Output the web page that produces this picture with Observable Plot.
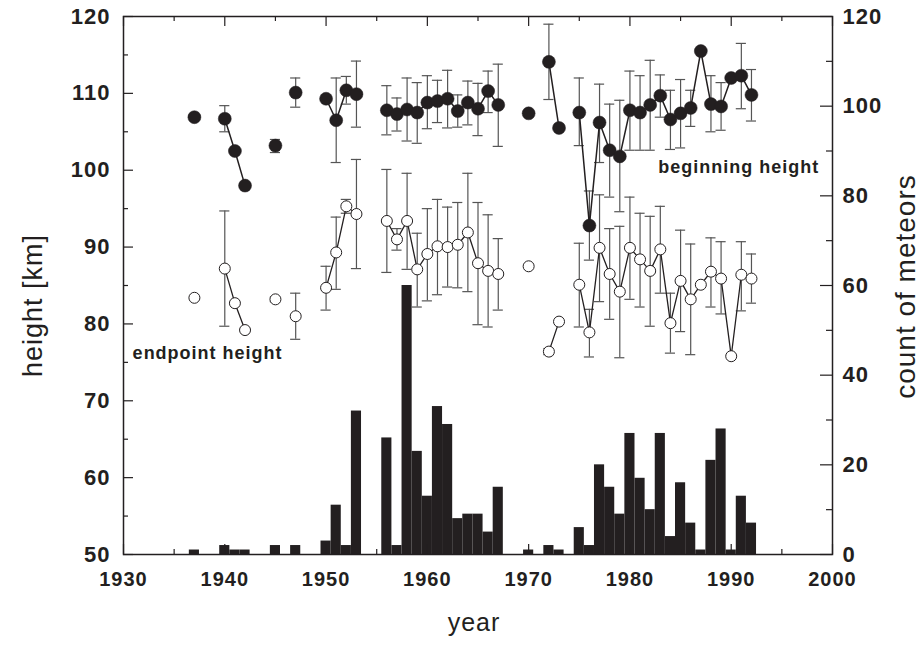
<!DOCTYPE html>
<html><head><meta charset="utf-8">
<script src="https://cdn.jsdelivr.net/npm/d3@7"></script>
<script src="https://cdn.jsdelivr.net/npm/@observablehq/plot@0.6"></script>
<style>body{margin:0;background:#fff}</style>
</head><body><div id="chart"></div>
<script>
// ---- data ----
const years = [1937,1940,1941,1942,1945,1947,1950,1951,1952,1953,
  1956,1957,1958,1959,1960,1961,1962,1963,1964,1965,1966,1967,
  1970,1972,1973,
  1975,1976,1977,1978,1979,1980,1981,1982,1983,1984,1985,1986,1987,1988,1989,1990,1991,1992];
const counts = [1,2,1,1,2,2,3,11,2,32,
  26,2,60,23,13,33,29,8,9,9,5,15,
  1,2,1,
  6,2,20,15,9,27,17,10,27,4,16,7,1,21,28,1,13,7];
const beginHeight = [106.9,106.7,102.5,98.0,103.2,110.1,109.3,106.5,110.4,109.9,
  107.8,107.3,107.9,107.5,108.8,109.0,109.3,107.7,108.8,108.0,110.3,108.5,
  107.4,114.1,105.5,
  107.5,92.8,106.2,102.6,101.8,107.8,107.5,108.5,109.7,106.6,107.4,108.1,115.5,108.6,108.3,112.0,112.3,109.8];
const beginLow = [null,105.0,null,null,102.3,108.2,null,101.0,108.6,105.6,
  104.6,105.1,103.8,103.5,105.4,106.2,105.5,105.6,105.9,104.5,107.5,103.1,
  null,109.2,null,
  103.2,88.3,101.0,96.5,94.6,102.6,102.6,102.6,106.9,102.7,102.9,105.7,null,105.0,105.2,null,108.0,106.4];
const beginHigh = [null,108.4,null,null,104.0,112.0,null,112.0,112.2,114.2,
  111.0,109.4,112.0,111.4,112.3,111.7,113.0,109.8,111.6,111.3,112.9,113.8,
  null,119.0,null,
  112.0,97.3,111.2,108.6,109.1,112.9,112.3,114.3,112.4,110.4,111.8,110.4,null,112.3,111.4,null,116.5,113.1];
const endHeight = [83.4,87.2,82.7,79.2,83.2,81.0,84.7,89.3,95.3,94.3,
  93.4,91.0,93.4,87.1,89.1,90.1,90.0,90.3,91.9,87.9,86.9,86.5,
  87.5,76.4,80.3,
  85.1,78.9,89.9,86.5,84.2,89.9,88.4,86.9,89.7,80.1,85.6,83.2,85.1,86.8,85.9,75.8,86.4,85.9];
const endLow = [null,79.7,null,null,82.9,78.0,81.8,84.5,94.4,87.2,
  86.7,89.6,87.1,82.2,83.0,83.8,84.8,84.7,84.2,79.9,79.6,81.8,
  null,76.0,null,
  79.6,75.7,82.9,80.6,75.6,83.2,82.2,79.7,84.0,76.2,79.0,76.0,null,82.2,81.3,null,81.7,82.7];
const endHigh = [null,94.7,null,null,83.5,84.0,87.5,93.9,96.2,101.4,
  100.1,92.4,99.6,91.8,95.0,96.2,95.2,95.8,99.6,95.8,94.2,91.1,
  null,76.8,null,
  90.5,81.9,96.8,92.4,92.7,96.5,94.4,94.0,95.3,84.0,92.2,90.4,null,91.2,90.7,null,90.7,89.1];

const xMajor = [1930,1940,1950,1960,1970,1980,1990,2000];
const xMinor = [1935,1945,1955,1965,1975,1985,1995];
const leftMajor = [50,60,70,80,90,100,110,120];
const leftMinor = [55,65,75,85,95,105,115];
const rightMajor = [0,20,40,60,80,100,120];
const rightMinor = [10,30,50,70,90,110];
const labelText = ["beginning height","endpoint height"];
const labelYear = [1982.8,1930.9];
const labelHeight = [99.65,75.4];

// ---- derived tables ----
const toKm = c => 50 + c * 70 / 120;
const fromKm = h => Math.round((h - 50) * 120 / 70);
let s = 0;
const seg = years.map((y, i) => (i > 0 && y - years[i - 1] > 1 ? ++s : s));
const rows = years.map((year, i) => ({
  year, count: counts[i], seg: seg[i],
  b: beginHeight[i], bLo: beginLow[i], bHi: beginHigh[i],
  e: endHeight[i], eLo: endLow[i], eHi: endHigh[i]
}));
const bErr = rows.filter(d => d.bLo != null).map(d => ({year: d.year, lo: d.bLo, hi: d.bHi}));
const eErr = rows.filter(d => d.eLo != null).map(d => ({year: d.year, lo: d.eLo, hi: d.eHi}));
const errs = bErr.concat(eErr);
const labels = labelText.map((t, i) => ({t, x: labelYear[i], y: labelHeight[i]}));

const W = 923, H = 649, mL = 123, mR = 91, mT = 16, mB = 95;
const iW = W - mL - mR, iH = H - mT - mB;
const font = "Liberation Sans, Arial, Helvetica, sans-serif";
const ink = "#231f20";

const chart = Plot.plot({
  width: W, height: H,
  marginLeft: mL, marginRight: mR, marginTop: mT, marginBottom: mB,
  style: {fontFamily: font, background: "#fff", color: ink, letterSpacing: "1px"},
  x: {domain: [1930, 2000], axis: null},
  y: {domain: [50, 120], axis: null},
  marks: [
    Plot.rect(rows, {x1: d => d.year - 0.5, x2: d => d.year + 0.5, y1: 50, y2: d => toKm(d.count), fill: ink}),
    Plot.ruleX(errs, {x: "year", y1: "lo", y2: "hi", stroke: "#555", strokeWidth: 1.2}),
    Plot.ruleY(errs, {x1: d => d.year - 0.5, x2: d => d.year + 0.5, y: "lo", stroke: "#555", strokeWidth: 1.2}),
    Plot.ruleY(errs, {x1: d => d.year - 0.5, x2: d => d.year + 0.5, y: "hi", stroke: "#555", strokeWidth: 1.2}),
    Plot.line(rows, {x: "year", y: "b", z: "seg", stroke: ink, strokeWidth: 1.5}),
    Plot.line(rows, {x: "year", y: "e", z: "seg", stroke: ink, strokeWidth: 1.3}),
    Plot.dot(rows, {x: "year", y: "b", r: 6.5, fill: ink, stroke: ink, strokeWidth: 0.5}),
    Plot.dot(rows, {x: "year", y: "e", r: 5.5, fill: "#fff", stroke: ink, strokeWidth: 1}),
    // tick marks (inward)
    Plot.tickX(xMajor, {x: d => d, insetTop: iH - 10, stroke: ink, strokeWidth: 1.2}),
    Plot.tickX(xMinor, {x: d => d, insetTop: iH - 5, stroke: ink, strokeWidth: 1.2}),
    Plot.tickX(xMajor, {x: d => d, insetBottom: iH - 10, stroke: ink, strokeWidth: 1.2}),
    Plot.tickX(xMinor, {x: d => d, insetBottom: iH - 5, stroke: ink, strokeWidth: 1.2}),
    Plot.tickY(leftMajor, {y: d => d, insetRight: iW - 10, stroke: ink, strokeWidth: 1.2}),
    Plot.tickY(leftMinor, {y: d => d, insetRight: iW - 5, stroke: ink, strokeWidth: 1.2}),
    Plot.tickY(rightMajor, {y: d => toKm(d), insetLeft: iW - 12, stroke: ink, strokeWidth: 1.2}),
    Plot.tickY(rightMinor, {y: d => toKm(d), insetLeft: iW - 6, stroke: ink, strokeWidth: 1.2}),
    Plot.frame({stroke: ink, strokeWidth: 1.5}),
    // tick labels
    Plot.axisX(xMajor, {anchor: "bottom", tickSize: 0, tickPadding: 17, fontSize: 20, fontWeight: "bold", tickFormat: d => String(d), label: null}),
    Plot.axisY(leftMajor, {anchor: "left", tickSize: 0, tickPadding: 13, fontSize: 22, fontWeight: "bold", label: null}),
    Plot.axisY(rightMajor.map(toKm), {anchor: "right", tickSize: 0, tickPadding: 10, fontSize: 22, fontWeight: "bold", tickFormat: fromKm, label: null}),
    // axis titles
    Plot.text(["height [km]"], {frameAnchor: "left", textAnchor: "middle", dx: -90, dy: 20, rotate: -90, fontSize: 27, fill: ink}),
    Plot.text(["count of meteors"], {frameAnchor: "right", textAnchor: "middle", dx: 74, dy: 1, rotate: -90, fontSize: 28, fill: ink}),
    Plot.text(["year"], {frameAnchor: "bottom", dy: 76, dx: -4, fontSize: 25, fill: ink}),
    // annotations
    Plot.text(labels, {x: "x", y: "y", text: "t", textAnchor: "start", lineAnchor: "bottom", fontSize: 18, fontWeight: "bold", fill: ink})
  ]
});
document.getElementById("chart").appendChild(chart);
</script>
</body></html>
